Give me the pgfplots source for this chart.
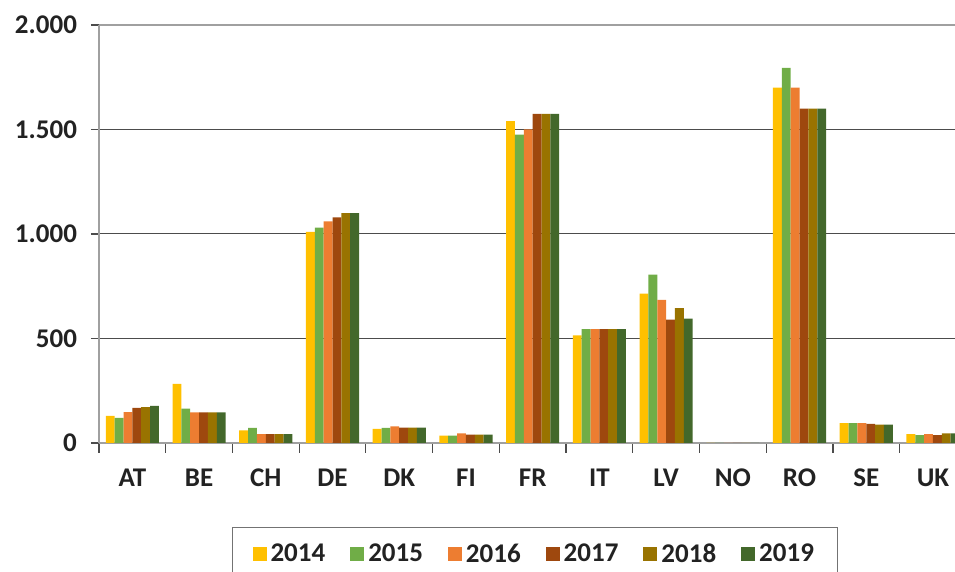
\documentclass[border=0pt]{standalone}
\usepackage{fontspec}
\setmainfont{Carlito}
\usepackage{pgfplots}
\pgfplotsset{compat=1.18}

\definecolor{c14}{HTML}{FFC000}
\definecolor{c15}{HTML}{70AD47}
\definecolor{c16}{HTML}{ED7D31}
\definecolor{c17}{HTML}{9E480E}
\definecolor{c18}{HTML}{997300}
\definecolor{c19}{HTML}{43682B}
\definecolor{txt}{HTML}{222222}
\definecolor{axgray}{HTML}{A0A0A0}

\begin{document}
\begin{tikzpicture}
\begin{axis}[
  at={(0,0)}, anchor=south west,
  width=428pt, height=209pt,
  scale only axis,
  ybar=0pt, bar width=0.1327,
  xmin=-0.5, xmax=12.33,
  ymin=0, ymax=2000,
  ytick={0,500,1000,1500,2000},
  xtick={0,...,12},
  xticklabels={AT,BE,CH,DE,DK,FI,FR,IT,LV,NO,RO,SE,UK},
  minor xtick={-0.5,0.5,...,12.5},
  major x tick style={draw=none},
  minor tick length=5pt,
  major tick length=4pt,
  tick align=outside,
  tick style={black!70, line width=0.6pt},
  axis x line*=bottom, axis y line*=left,
  axis line style={axgray, line width=1pt},
  ymajorgrids,
  major grid style={black!70, line width=0.5pt},
  /pgf/number format/.cd, 1000 sep={.}, assume math mode=true,
  /pgfplots/.cd,
  tick label style={font=\fontsize{13.5}{16}\selectfont\bfseries, text=txt},
  yticklabel style={xshift=-3.5pt},
  xticklabel style={yshift=-5.5pt},
  legend columns=6,
  legend style={at={(0.1554,-0.201)}, anchor=north west,
    draw=black!55, line width=0.5pt,
    font=\fontsize{13.5}{16}\selectfont\bfseries, text=txt,
    inner xsep=10pt, inner ysep=6pt,
    /tikz/every even column/.append style={column sep=10.5pt}},
  legend image code/.code={\fill[#1] (0pt,-3.5pt) rectangle (7pt,3.5pt);},
  every axis plot/.append style={draw=none},
  clip=true]

\addplot[fill=c14] coordinates {(0,130) (1,283) (2,60) (3,1010) (4,68) (5,35) (6,1540) (7,515) (8,715) (9,0) (10,1700) (11,95) (12,43)};
\addplot[fill=c15] coordinates {(0,120) (1,164) (2,72) (3,1030) (4,72) (5,35) (6,1475) (7,545) (8,805) (9,0) (10,1795) (11,95) (12,38)};
\addplot[fill=c16] coordinates {(0,148) (1,147) (2,43) (3,1060) (4,80) (5,46) (6,1500) (7,545) (8,685) (9,0) (10,1700) (11,95) (12,43)};
\addplot[fill=c17] coordinates {(0,168) (1,147) (2,43) (3,1080) (4,73) (5,40) (6,1575) (7,545) (8,590) (9,0) (10,1600) (11,92) (12,38)};
\addplot[fill=c18] coordinates {(0,172) (1,147) (2,42) (3,1100) (4,73) (5,40) (6,1575) (7,545) (8,645) (9,0) (10,1600) (11,88) (12,46)};
\addplot[fill=c19] coordinates {(0,178) (1,147) (2,43) (3,1100) (4,73) (5,40) (6,1575) (7,545) (8,595) (9,0) (10,1600) (11,88) (12,46)};
\legend{2014,2015,2016,2017,2018,2019}

\draw[axgray, line width=1pt] (rel axis cs:0,1) -- (rel axis cs:1,1);
\end{axis}
\pgfresetboundingbox
\useasboundingbox (-49.5pt,-64.5pt) rectangle (428pt,221.5pt);
\end{tikzpicture}
\end{document}
